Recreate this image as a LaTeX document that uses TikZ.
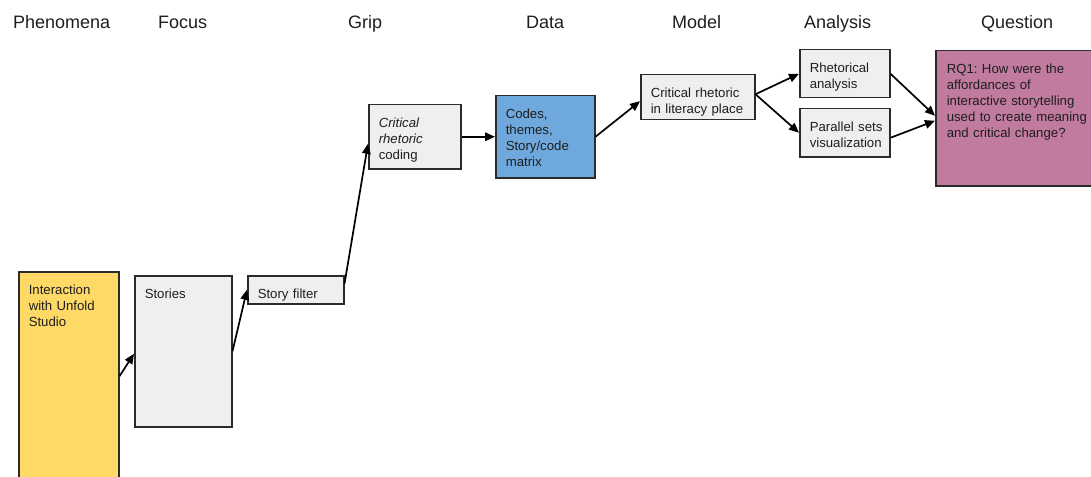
\documentclass[tikz,border=0pt]{standalone}
\usepackage{fontspec}
\setmainfont{Liberation Sans}
\usetikzlibrary{arrows.meta}
\frenchspacing
\definecolor{edge}{HTML}{2B2B2B}
\definecolor{ink}{HTML}{1E1E1E}
\definecolor{phenfill}{HTML}{FFD966}
\definecolor{greyfill}{HTML}{EFEFEF}
\definecolor{datafill}{HTML}{6FA8DC}
\definecolor{qfill}{HTML}{C27BA0}
\begin{document}
\begin{tikzpicture}[x=1pt,y=-1pt,
  cell/.style={draw=edge, line width=1.5pt, anchor=north west,
    inner xsep=10pt, inner ysep=0pt, align=left, text height=22.5pt,
    font=\fontsize{13.2}{16}\selectfont, text=ink},
  head/.style={anchor=base west, inner sep=0pt,
    font=\fontsize{18}{20}\selectfont, text=ink},
  flow/.style={-{Triangle[length=10pt,width=8.5pt]}, line width=1.7pt, draw=black}]
\useasboundingbox (0,0) rectangle (1091,476);

% column headings
\node[head] (hPhen)  at (13,28.5)  {Phenomena};
\node[head] (hFocus) at (158,28.5) {Focus};
\node[head] (hGrip)  at (348,28.5) {Grip};
\node[head] (hData)  at (526,28.5) {Data};
\node[head] (hModel) at (672,28.5) {Model};
\node[head] (hAnal)  at (804,28.5) {Analysis};
\node[head] (hQuest) at (981,28.5) {Question};

% boxes
\node[cell, fill=phenfill, text width=80pt, text depth=196.5pt] (phen) at (18,271)
  {Interaction\\with Unfold\\Studio};
\node[cell, fill=greyfill, text width=77pt, text depth=128.5pt] (stories) at (134,275)
  {Stories};
\node[cell, fill=greyfill, text width=76pt, text depth=5.5pt] (filter) at (247,275)
  {Story filter};
\node[cell, fill=greyfill, text width=72pt, text depth=41.5pt] (coding) at (368,104)
  {\textit{Critical}\\\textit{rhetoric}\\coding};
\node[cell, fill=datafill, text width=79pt, text depth=59.5pt] (data) at (495,95)
  {Codes,\\themes,\\Story/code\\matrix};
\node[cell, fill=greyfill, text width=94pt, text depth=22.5pt] (model) at (640,74)
  {\mbox{Critical rhetoric}\\\mbox{in literacy place}};
\node[cell, fill=greyfill, text width=70pt, text depth=25.5pt] (rhet) at (799,49)
  {Rhetorical\\analysis};
\node[cell, fill=greyfill, text width=70pt, text depth=25.5pt] (par) at (799,108)
  {\mbox{Parallel sets}\\visualization};
\node[cell, fill=qfill, text width=135pt, text depth=112.5pt, inner xsep=11pt] (quest) at (935,50)
  {\mbox{RQ1: How were the}\\\mbox{affordances of}\\\mbox{interactive storytelling}\\
   \mbox{used to create meaning}\\\mbox{and critical change?}};

% connectors
\draw[flow] ([yshift=5pt]phen.east) -- ([yshift=-2.5pt]stories.west);
\draw[flow] (stories.east) -- (filter.west);
\draw[flow] ([yshift=6pt]filter.east) -- ([yshift=-7pt]coding.west);
\draw[flow] (coding.east) -- (data.west);
\draw[flow] (data.east) -- ([yshift=-4pt]model.west);
\draw[flow] ([yshift=3pt]model.east) -- (rhet.west);
\draw[flow] ([yshift=3pt]model.east) -- (par.west);
\draw[flow] (rhet.east) -- ([yshift=2.5pt]quest.west);
\draw[flow] ([yshift=-5pt]par.east) -- ([yshift=-2.5pt]quest.west);
\end{tikzpicture}
\end{document}
